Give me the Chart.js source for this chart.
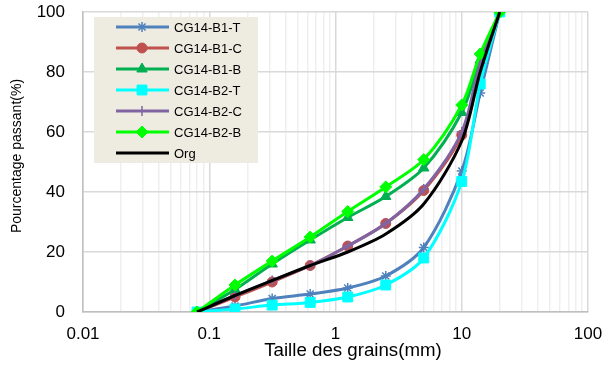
<!DOCTYPE html>
<html>
<head>
<meta charset="utf-8">
<script src="https://cdn.jsdelivr.net/npm/chart.js@4"></script>
<style>
  html, body { margin: 0; padding: 0; background: #fff; }
  #wrap { width: 603px; height: 368px; }
</style>
</head>
<body>
<div id="wrap"><canvas id="grainChart" width="603" height="368"></canvas></div>
<script>
// Sieve sizes (mm) and percent passing for each sample
const sieves = [0.08, 0.16, 0.315, 0.63, 1.25, 2.5, 5, 10, 14, 20];
const b1T = [0, 2, 4.5, 6, 8, 12, 21.5, 47, 73, 100];
const b1C = [0, 5, 10, 15.5, 22, 29.5, 40.5, 59, 82, 100];
const b1B = [0, 7.5, 16, 24, 31.5, 38.5, 48, 66.5, 84, 100];
const b2T = [0, 1, 2.3, 3.2, 5, 9, 18, 43.5, 76, 100];
const b2C = [0, 5.5, 10.5, 15.5, 22, 29.5, 41, 60, 83, 100];
const b2B = [0, 9, 17, 25, 33.5, 41.7, 50.8, 69, 86, 100];
const org = [0, 5.5, 10.5, 15.5, 20, 26, 36, 57, 80, 100];

const xMajors = [0.01, 0.1, 1, 10, 100];
const xTickLabels = ['0.01', '0.1', '1', '10', '100'];
const xTitle = 'Taille des grains(mm)';
const yTitle = 'Pourcentage passant(%)';

const FONT = "'Liberation Sans', Arial, sans-serif";

function pts(values) {
    return values.map((v, i) => ({ x: sieves[i], y: v }));
}

function isMajor(v) {
    const l = Math.log10(v);
    return Math.abs(l - Math.round(l)) < 1e-9;
}

const series = [
    { label: 'CG14-B1-T', data: b1T, color: '#4F81BD', style: 'star', radius: 5, bw: 1.5 },
    { label: 'CG14-B1-C', data: b1C, color: '#C0504D', style: 'circle', radius: 5, bw: 1 },
    { label: 'CG14-B1-B', data: b1B, color: '#00B050', style: 'triangle', radius: 6, bw: 1 },
    { label: 'CG14-B2-T', data: b2T, color: '#00FFFF', style: 'rect', radius: 7, bw: 1 },
    { label: 'CG14-B2-C', data: b2C, color: '#8064A2', style: 'cross', radius: 5, bw: 1.5 },
    { label: 'CG14-B2-B', data: b2B, color: '#00FF00', style: 'rectRot', radius: 6, bw: 1 },
    { label: 'Org', data: org, color: '#000000', style: false, radius: 0, bw: 0 }
];

const datasets = series.map((s, i) => ({
    label: s.label,
    data: pts(s.data),
    borderColor: s.color,
    backgroundColor: s.color,
    borderWidth: 3,
    tension: 0.3,
    pointStyle: s.style,
    pointRadius: s.radius,
    pointBorderWidth: s.bw,
    pointBackgroundColor: s.color,
    pointBorderColor: s.color,
    order: series.length - 1 - i // later series drawn on top, like Excel
}));

// legend box inside the plot area + axis titles placed like the Excel original
const boxLegend = {
    id: 'boxLegend',
    afterDraw(chart) {
        const ctx = chart.ctx;
        ctx.save();
        ctx.fillStyle = '#EEECE1';
        ctx.fillRect(94, 17, 164, 146);
        series.forEach((s, i) => {
            const y = 27 + i * 21;
            ctx.strokeStyle = s.color;
            ctx.lineWidth = 3;
            ctx.beginPath();
            ctx.moveTo(116, y);
            ctx.lineTo(169, y);
            ctx.stroke();
            if (s.style) {
                ctx.fillStyle = s.color;
                ctx.strokeStyle = s.color;
                ctx.lineWidth = s.bw;
                Chart.helpers.drawPoint(ctx, { pointStyle: s.style, radius: s.radius, borderWidth: s.bw, rotation: 0 }, 142, y);
            }
            ctx.fillStyle = '#000';
            ctx.font = '13px ' + FONT;
            ctx.textAlign = 'left';
            ctx.textBaseline = 'middle';
            ctx.fillText(s.label, 174, y + 1);
        });

        ctx.fillStyle = '#000';
        ctx.textAlign = 'center';
        ctx.textBaseline = 'middle';
        ctx.font = '18.7px ' + FONT;
        ctx.fillText(xTitle, 353, 351);
        ctx.translate(17, 156);
        ctx.rotate(-Math.PI / 2);
        ctx.font = '14px ' + FONT;
        ctx.fillText(yTitle, 0, 0);
        ctx.restore();
    }
};

new Chart(document.getElementById('grainChart').getContext('2d'), {
    type: 'line',
    data: { datasets },
    options: {
        responsive: false,
        animation: false,
        devicePixelRatio: 1,
        layout: { padding: { top: 12, right: 15, left: 0, bottom: 0 } },
        plugins: { legend: { display: false }, tooltip: { enabled: false } },
        scales: {
            x: {
                type: 'logarithmic',
                min: 0.01,
                max: 100,
                afterBuildTicks(scale) {
                    const t = [];
                    for (let k = -2; k <= 1; k++) {
                        for (let m = 1; m <= 9; m++) t.push({ value: m * Math.pow(10, k) });
                    }
                    t.push({ value: 100 });
                    scale.ticks = t;
                },
                afterFit(scale) {
                    scale.height = 56;
                    scale.paddingLeft = 0;
                    scale.paddingRight = 0;
                },
                ticks: {
                    autoSkip: false,
                    maxRotation: 0,
                    padding: 12,
                    color: '#000',
                    font: { family: FONT, size: 17 },
                    callback(v) {
                        const idx = xMajors.findIndex(m => Math.abs(m - v) < m * 1e-6);
                        return idx >= 0 ? xTickLabels[idx] : '';
                    }
                },
                grid: {
                    drawTicks: false,
                    color: c => (c.tick && isMajor(c.tick.value)) ? '#D9D9D9' : '#EFEFEF',
                    lineWidth: 1.5
                },
                border: { color: '#BFBFBF', width: 1.5 }
            },
            y: {
                min: 0,
                max: 100,
                afterFit(scale) {
                    scale.width = 83;
                    scale.paddingTop = 0;
                    scale.paddingBottom = 0;
                },
                ticks: {
                    stepSize: 20,
                    padding: 18,
                    color: '#000',
                    font: { family: FONT, size: 17 }
                },
                grid: { drawTicks: false, color: '#D9D9D9', lineWidth: 1.5 },
                border: { color: '#BFBFBF', width: 1.5 }
            }
        }
    },
    plugins: [boxLegend]
});
</script>
</body>
</html>
